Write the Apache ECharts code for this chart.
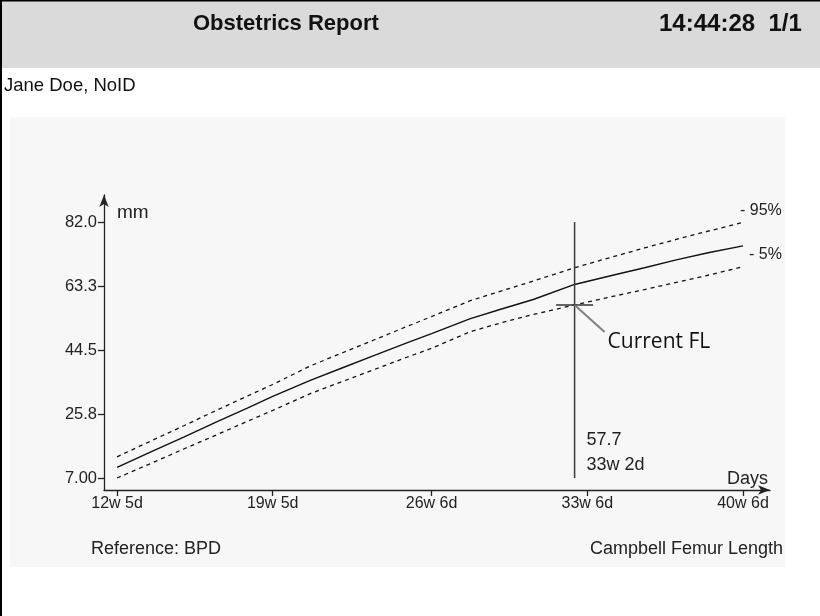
<!DOCTYPE html>
<html><head><meta charset="utf-8">
<script src="https://cdn.jsdelivr.net/npm/echarts@6/dist/echarts.min.js"></script>
<style>html,body{margin:0;padding:0;background:#fff}#c{width:820px;height:616px}</style>
</head><body><div id="c"></div>
<script>
// ---- data ----
const days = [89,100,110,120,130,138,150,160,170,180,188,200,210,220,233,245,255,265,275,286];
const p95  = [13.2,18.0,22.3,26.7,31.0,34.4,39.9,43.7,47.5,51.3,54.3,58.9,61.8,64.7,68.6,71.8,74.4,76.9,79.3,81.9];
const p50  = [10.1,14.8,19.0,23.3,27.5,30.9,35.7,39.3,42.9,46.5,49.3,53.6,56.5,59.3,63.7,66.4,68.6,70.9,73.0,75.0];
const p5   = [7.0,11.4,15.5,19.5,23.6,26.8,31.8,35.3,38.8,42.3,45.0,49.8,52.5,54.9,57.7,60.2,62.2,64.3,66.4,68.9];
const xTickDays   = [89,138,188,237,286];
const xTickLabels = ['12w 5d','19w 5d','26w 6d','33w 6d','40w 6d'];
const yTickValues = [7,25.75,44.5,63.25,82];
const yTickLabels = ['7.00','25.8','44.5','63.3','82.0'];
const currentDay = 233;
const currentValue = 57.7;
const currentAge = '33w 2d';
const currentName = 'Current FL';
const lineLow = 7, lineHigh = 82;

const zip = (xs, ys) => xs.map((x, i) => [x, ys[i]]);
const FONT = "'Liberation Sans', Arial, sans-serif";

const chart = echarts.init(document.getElementById('c'), null, {renderer: 'canvas'});

const option = {
  backgroundColor: '#ffffff',
  animation: false,
  grid: {left: 104, right: 50, top: 195, bottom: 126, containLabel: false},
  xAxis: {
    type: 'value', min: 84.9, max: 294.5,
    name: 'Days', nameLocation: 'end', nameGap: -2,
    nameTextStyle: {fontFamily: FONT, fontSize: 18, color: '#222', align: 'right', verticalAlign: 'bottom', padding: [0, 0, 2, 0]},
    axisLine: {show: true, symbol: ['none', 'arrow'], symbolSize: [7, 12], lineStyle: {color: '#222', width: 1.3}},
    axisTick: {show: true, length: 6, customValues: xTickDays, lineStyle: {color: '#222', width: 1.3}},
    axisLabel: {show: true, customValues: xTickDays, margin: 6, fontFamily: FONT, fontSize: 16, color: '#222',
      formatter: v => xTickLabels[xTickDays.indexOf(v)] || ''},
    splitLine: {show: false}
  },
  yAxis: {
    type: 'value', min: 3.484, max: 89.91,
    name: 'mm', nameLocation: 'end', nameGap: -8,
    nameTextStyle: {fontFamily: FONT, fontSize: 19, color: '#222', align: 'left', verticalAlign: 'top', padding: [0, 0, 0, 13]},
    axisLine: {show: true, symbol: ['none', 'arrow'], symbolSize: [7, 12], lineStyle: {color: '#222', width: 1.3}},
    axisTick: {show: true, length: 6, customValues: yTickValues, lineStyle: {color: '#222', width: 1.3}},
    axisLabel: {show: true, customValues: yTickValues, margin: 7, fontFamily: FONT, fontSize: 16.5, color: '#222',
      formatter: v => { const i = yTickValues.findIndex(t => Math.abs(t - v) < 1e-6); return i >= 0 ? yTickLabels[i] : ''; }},
    splitLine: {show: false}
  },
  graphic: [
    {type: 'rect', id: 'panel', z: -20, shape: {x: 10, y: 117, width: 775, height: 450}, style: {fill: '#f7f7f7'}},
    {type: 'rect', id: 'header', z: -10, shape: {x: 0, y: 0, width: 820, height: 68}, style: {fill: '#dadada'}},
    {type: 'rect', id: 'topBorder', z: 10, shape: {x: 0, y: 0, width: 820, height: 1.5}, style: {fill: '#000'}},
    {type: 'rect', id: 'leftBorder', z: 10, shape: {x: 0, y: 0, width: 2, height: 616}, style: {fill: '#000'}},
    {type: 'text', id: 't1', z: 10, style: {text: 'Obstetrics Report', x: 193, y: 24, fontFamily: FONT, fontWeight: 'bold', fontSize: 22, fill: '#111', verticalAlign: 'middle'}},
    {type: 'text', id: 't2', z: 10, style: {text: '14:44:28  1/1', x: 659, y: 24, fontFamily: FONT, fontWeight: 'bold', fontSize: 24, fill: '#111', verticalAlign: 'middle'}},
    {type: 'text', id: 't3', z: 10, style: {text: 'Jane Doe, NoID', x: 4, y: 86, fontFamily: FONT, fontSize: 18.5, fill: '#111', verticalAlign: 'middle'}},
    {type: 'text', id: 't4', z: 10, style: {text: 'Reference: BPD', x: 91, y: 549, fontFamily: FONT, fontSize: 18, fill: '#222', verticalAlign: 'middle'}},
    {type: 'text', id: 't5', z: 10, style: {text: 'Campbell Femur Length', x: 783, y: 549, fontFamily: FONT, fontSize: 18, fill: '#222', align: 'right', verticalAlign: 'middle'}}
  ],
  series: [
    {name: '95%', type: 'line', data: zip(days, p95), symbol: 'none', silent: true,
     lineStyle: {color: '#111', width: 1.3, type: [4, 4]},
     endLabel: {show: true, formatter: '- 95%', distance: 0, offset: [-3, -12], align: 'left', verticalAlign: 'middle', fontFamily: FONT, fontSize: 16, color: '#222'}},
    {name: '50%', type: 'line', data: zip(days, p50), symbol: 'none', silent: true,
     lineStyle: {color: '#111', width: 1.4}},
    {name: '5%', type: 'line', data: zip(days, p5), symbol: 'none', silent: true,
     lineStyle: {color: '#111', width: 1.3, type: [4, 4]},
     endLabel: {show: true, formatter: '- 5%', distance: 0, offset: [6, -12], align: 'left', verticalAlign: 'middle', fontFamily: FONT, fontSize: 16, color: '#222'}},
    {name: 'current', type: 'line', data: [[currentDay, lineLow], [currentDay, lineHigh]], symbol: 'none', silent: true,
     lineStyle: {color: '#3a3a3a', width: 1.5},
     markPoint: {silent: true, symbol: 'rect', symbolSize: [37, 1.6], itemStyle: {color: '#333'}, label: {show: false},
       data: [{coord: [currentDay, currentValue]}]}}
  ]
};
chart.setOption(option);

const pt = chart.convertToPixel({gridIndex: 0}, [currentDay, currentValue]);
const base = chart.convertToPixel({gridIndex: 0}, [currentDay, lineLow]);
chart.setOption({
  graphic: [
    {type: 'line', id: 'leader', z: 10, shape: {x1: pt[0], y1: pt[1], x2: pt[0] + 30, y2: pt[1] + 27}, style: {stroke: '#808080', lineWidth: 2}},
    {type: 'text', id: 'cfl', z: 10, style: {text: currentName, x: pt[0] + 33, y: pt[1] + 37, fontFamily: "'Open Sans', 'Noto Sans', sans-serif", fontSize: 21, fill: '#111', verticalAlign: 'middle'}},
    {type: 'text', id: 'cv', z: 10, style: {text: String(currentValue), x: base[0] + 12, y: base[1] - 38, fontFamily: FONT, fontSize: 18, fill: '#222', verticalAlign: 'middle'}},
    {type: 'text', id: 'ca', z: 10, style: {text: currentAge, x: base[0] + 12, y: base[1] - 12.5, fontFamily: FONT, fontSize: 18, fill: '#222', verticalAlign: 'middle'}}
  ]
});
</script>
</body></html>
